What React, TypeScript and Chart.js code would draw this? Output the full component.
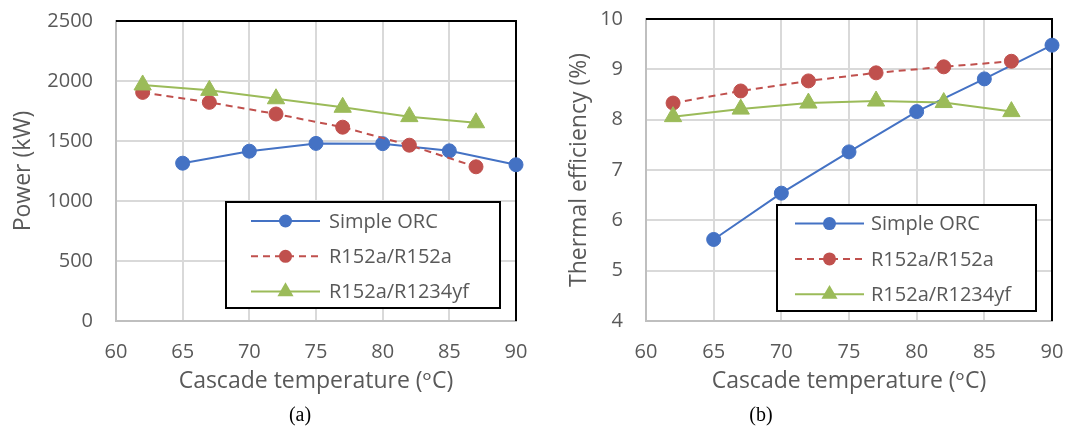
import React, { useEffect, useRef } from "react";
import { Chart, registerables } from "chart.js";

Chart.register(...registerables);

// ---------- data ----------
const orcTemps = [65, 70, 75, 80, 85, 90];
const cascadeTemps = [62, 67, 72, 77, 82, 87];
const seriesLabels = ["Simple ORC", "R152a/R152a", "R152a/R1234yf"];

const orcPower = [1315, 1415, 1480, 1478, 1418, 1302];
const r152aPower = [1905, 1822, 1725, 1615, 1465, 1285];
const r1234yfPower = [1967, 1922, 1852, 1781, 1703, 1652];

const orcEfficiency = [5.62, 6.54, 7.36, 8.16, 8.81, 9.48];
const r152aEfficiency = [8.33, 8.57, 8.77, 8.93, 9.05, 9.16];
const r1234yfEfficiency = [8.06, 8.21, 8.33, 8.37, 8.34, 8.16];

const xAxisTitle = "Cascade temperature (ᵒC)";
const powerAxisTitle = "Power (kW)";
const efficiencyAxisTitle = "Thermal efficiency (%)";
const xRange = [60, 90, 5];
const powerRange = [0, 2500, 500];
const efficiencyRange = [4, 10, 1];
const captions = ["(a)", "(b)"];

// ---------- styles ----------
const W = 534;
const H = 432;
const FONT = '"Open Sans", "DejaVu Sans", sans-serif';
const TEXT = "#595959";
const GRID = "#d9d9d9";
const AXIS = "#bfbfbf";
const COLORS = ["#4472C4", "#C0504D", "#9BBB59"];
const TITLE_SIZE = 23;

function drawMarker(ctx: CanvasRenderingContext2D, style: string, x: number, y: number, r: number) {
  ctx.beginPath();
  if (style === "triangle") {
    let rad = 0;
    ctx.moveTo(x + Math.sin(rad) * r, y - Math.cos(rad) * r);
    rad += (2 * Math.PI) / 3;
    ctx.lineTo(x + Math.sin(rad) * r, y - Math.cos(rad) * r);
    rad += (2 * Math.PI) / 3;
    ctx.lineTo(x + Math.sin(rad) * r, y - Math.cos(rad) * r);
    ctx.closePath();
  } else {
    ctx.arc(x, y, r, 0, Math.PI * 2);
  }
  ctx.fill();
}

const framePlugin = {
  id: "frame",
  beforeDatasetsDraw(chart: any) {
    const { ctx, chartArea } = chart;
    ctx.save();
    ctx.strokeStyle = "#000";
    ctx.lineWidth = 2;
    ctx.beginPath();
    ctx.moveTo(chartArea.left, chartArea.top);
    ctx.lineTo(chartArea.right, chartArea.top);
    ctx.lineTo(chartArea.right, chartArea.bottom);
    ctx.stroke();
    ctx.restore();
  },
};

const boxLegendPlugin = {
  id: "boxLegend",
  afterDraw(chart: any, _args: any, o: any) {
    const { ctx } = chart;
    ctx.save();
    ctx.fillStyle = "#fff";
    ctx.fillRect(o.left, o.top, o.width, o.height);
    ctx.strokeStyle = "#000";
    ctx.lineWidth = 2;
    ctx.strokeRect(o.left, o.top, o.width, o.height);
    chart.data.datasets.forEach((ds: any, i: number) => {
      const y = o.top + o.rowStart + i * o.rowGap;
      ctx.strokeStyle = ds.borderColor;
      ctx.lineWidth = ds.borderWidth;
      ctx.setLineDash(ds.borderDash || []);
      ctx.beginPath();
      ctx.moveTo(o.left + o.lineStart, y);
      ctx.lineTo(o.left + o.lineEnd, y);
      ctx.stroke();
      ctx.setLineDash([]);
      ctx.fillStyle = ds.pointBackgroundColor;
      drawMarker(ctx, ds.pointStyle, o.left + (o.lineStart + o.lineEnd) / 2, y, ds.pointRadius * o.markerScale);
      ctx.fillStyle = TEXT;
      ctx.font = `20px ${FONT}`;
      ctx.textAlign = "left";
      ctx.textBaseline = "middle";
      ctx.fillText(ds.label, o.left + o.textX, y + 1);
    });
    ctx.restore();
  },
};

const captionPlugin = {
  id: "caption",
  afterDraw(chart: any, _args: any, o: any) {
    const { ctx } = chart;
    ctx.save();
    ctx.fillStyle = "#000";
    ctx.font = `20px "Liberation Serif", "Times New Roman", serif`;
    ctx.textAlign = "center";
    ctx.textBaseline = "middle";
    ctx.fillText(o.text, o.x, o.y);
    ctx.restore();
  },
};

function makeDatasets(xs: number[][], ys: number[][]) {
  const styles = ["circle", "circle", "triangle"];
  const radii = [7, 7, 10];
  const dashes = [[], [7, 5], []];
  const orders = [2, 1, 0];
  return ys.map((vals, i) => ({
    label: seriesLabels[i],
    data: vals.map((v, j) => ({ x: xs[i][j], y: v })),
    borderColor: COLORS[i],
    backgroundColor: COLORS[i],
    pointBackgroundColor: COLORS[i],
    pointBorderColor: COLORS[i],
    pointBorderWidth: 1,
    pointStyle: styles[i],
    pointRadius: radii[i],
    borderWidth: 2,
    borderDash: dashes[i],
    tension: 0,
    clip: false,
    order: orders[i],
  }));
}

type Area = { left: number; right: number; top: number; bottom: number };
type Panel = {
  ys: number[][];
  yRange: number[];
  yTitle: string;
  area: Area;
  yTitleCenter: number;
  yTickPad: number;
  legend: any;
  caption: { text: string; x: number; y: number };
};

function buildConfig(p: Panel): any {
  const half = (TITLE_SIZE * 1.2) / 2;
  return {
    type: "line",
    data: { datasets: makeDatasets([orcTemps, cascadeTemps, cascadeTemps], p.ys) },
    plugins: [framePlugin, boxLegendPlugin, captionPlugin],
    options: {
      responsive: false,
      animation: false,
      events: [],
      layout: { padding: { left: 0, top: p.area.top, right: W - p.area.right, bottom: 0 } },
      plugins: {
        legend: { display: false },
        tooltip: { enabled: false },
        title: { display: false },
        boxLegend: p.legend,
        caption: p.caption,
      },
      scales: {
        x: {
          type: "linear",
          min: xRange[0],
          max: xRange[1],
          afterFit: (s: any) => {
            s.height = H - p.area.bottom;
            s.paddingLeft = 0;
            s.paddingRight = 0;
          },
          ticks: {
            stepSize: xRange[2],
            color: TEXT,
            font: { family: FONT, size: 20 },
            padding: 19,
            maxRotation: 0,
            callback: (v: any) => String(v),
          },
          grid: { color: GRID, lineWidth: 2, drawTicks: false },
          border: { color: AXIS, width: 2 },
          title: {
            display: true,
            text: xAxisTitle,
            color: TEXT,
            font: { family: FONT, size: TITLE_SIZE },
            padding: { top: 0, bottom: H - 381 - half },
          },
        },
        y: {
          type: "linear",
          min: p.yRange[0],
          max: p.yRange[1],
          afterFit: (s: any) => {
            s.width = p.area.left;
            s.paddingTop = 0;
            s.paddingBottom = 0;
          },
          ticks: {
            stepSize: p.yRange[2],
            color: TEXT,
            font: { family: FONT, size: 20 },
            padding: p.yTickPad,
            callback: (v: any) => String(v),
          },
          grid: { color: GRID, lineWidth: 2, drawTicks: false },
          border: { color: AXIS, width: 2 },
          title: {
            display: true,
            text: p.yTitle,
            color: TEXT,
            font: { family: FONT, size: TITLE_SIZE },
            padding: { top: p.yTitleCenter - half, bottom: 0 },
          },
        },
      },
    },
  };
}

const panels: Panel[] = [
  {
    ys: [orcPower, r152aPower, r1234yfPower],
    yRange: powerRange,
    yTitle: powerAxisTitle,
    area: { left: 116, right: 516, top: 21, bottom: 321 },
    yTitleCenter: 23.5,
    yTickPad: 23,
    legend: { left: 226, top: 202, width: 274, height: 106, rowStart: 19, rowGap: 35.3, lineStart: 25, lineEnd: 94, textX: 103, markerScale: 0.93 },
    caption: { text: captions[0], x: 300, y: 416 },
  },
  {
    ys: [orcEfficiency, r152aEfficiency, r1234yfEfficiency],
    yRange: efficiencyRange,
    yTitle: efficiencyAxisTitle,
    area: { left: 112, right: 518, top: 19, bottom: 321 },
    yTitleCenter: 45.5,
    yTickPad: 23,
    legend: { left: 243, top: 205, width: 259, height: 106, rowStart: 18.6, rowGap: 35.3, lineStart: 18, lineEnd: 87, textX: 94, markerScale: 0.93 },
    caption: { text: captions[1], x: 761 - 534, y: 416 },
  },
];

function ChartPanel({ panel }: { panel: Panel }) {
  const ref = useRef<HTMLCanvasElement>(null);
  useEffect(() => {
    if (!ref.current) return;
    const chart = new Chart(ref.current, buildConfig(panel));
    return () => chart.destroy();
  }, [panel]);
  return <canvas ref={ref} width={W} height={H} style={{ display: "block", width: W, height: H }} />;
}

export default function App() {
  useEffect(() => {
    document.body.style.margin = "0";
    document.body.style.background = "#fff";
  }, []);
  return (
    <div style={{ display: "flex", width: 1068, height: 432, background: "#fff" }}>
      {panels.map((p, i) => (
        <ChartPanel key={i} panel={p} />
      ))}
    </div>
  );
}
